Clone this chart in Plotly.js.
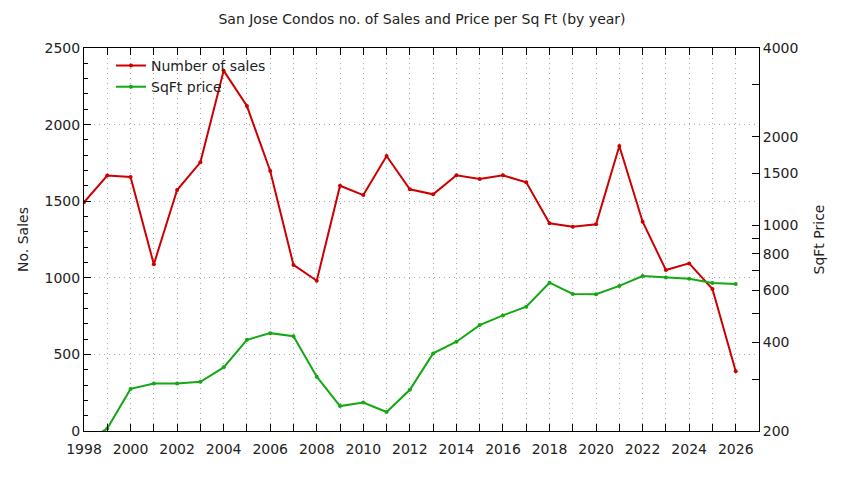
<!DOCTYPE html>
<html>
<head>
<meta charset="utf-8">
<script src="https://cdn.plot.ly/plotly-3.0.1.min.js"></script>
<style>
  html, body { margin: 0; padding: 0; background: #fff; }
  #chart { width: 844px; height: 480px; }
</style>
</head>
<body>
<div id="chart"></div>
<script>
// years on the x axis
const years = [1998, 1999, 2000, 2001, 2002, 2003, 2004, 2005, 2006, 2007,
               2008, 2009, 2010, 2011, 2012, 2013, 2014, 2015, 2016, 2017,
               2018, 2019, 2020, 2021, 2022, 2023, 2024, 2025, 2026];

// number of condo sales per year (left axis)
const salesCount = [1493, 1667, 1658, 1088, 1573, 1754, 2352, 2121, 1697, 1084,
                    981, 1601, 1540, 1795, 1578, 1545, 1669, 1645, 1669, 1623,
                    1356, 1334, 1349, 1860, 1366, 1051, 1094, 927, 390];

// price per square foot (right axis, log scale)
const sqftPrice = [182, 204, 278, 290, 290, 294, 329, 408, 430, 420,
                   306, 243, 250, 232, 276, 367, 402, 458, 494, 529,
                   638, 584, 583, 622, 672, 665, 658, 636, 632];

// right axis ticks
const y2Ticks  = [200, 300, 400, 500, 600, 700, 800, 900, 1000, 1500, 2000, 3000, 4000];
const y2Labels = ['200', '', '400', '', '600', '', '800', '', '1000', '1500', '2000', '', '4000'];

const FONT = 'DejaVu Sans, sans-serif';
const GRID = '#a8a8a8';
const DOTS = '1px,4px';

const traceSales = {
    x: years, y: salesCount,
    name: 'Number of sales',
    type: 'scatter', mode: 'lines+markers',
    line: { color: '#cc0000', width: 2 },
    marker: { color: '#cc0000', size: 4, symbol: 'circle' },
    yaxis: 'y'
};

const tracePrice = {
    x: years, y: sqftPrice,
    name: 'SqFt price',
    type: 'scatter', mode: 'lines+markers',
    line: { color: '#14a814', width: 2 },
    marker: { color: '#14a814', size: 4, symbol: 'circle' },
    yaxis: 'y2'
};

const layout = {
    width: 844, height: 480,
    paper_bgcolor: '#fff', plot_bgcolor: '#fff',
    margin: { l: 84, r: 85, t: 48, b: 49 },
    font: { family: FONT, size: 14, color: '#222' },
    title: {
        text: 'San Jose Condos no. of Sales and Price per Sq Ft (by year)',
        font: { family: FONT, size: 14, color: '#222' },
        x: 0.5, xanchor: 'center', y: 0.96, yanchor: 'middle'
    },
    showlegend: true,
    legend: {
        x: 0.04, y: 0.995, xanchor: 'left', yanchor: 'top',
        bgcolor: 'rgba(0,0,0,0)', borderwidth: 0,
        font: { family: FONT, size: 14, color: '#222' },
        tracegroupgap: 0
    },
    xaxis: {
        range: [1998, 2027], tick0: 1998, dtick: 2,
        ticks: 'inside', ticklen: 7, tickcolor: '#000', tickwidth: 1,
        ticklabelstandoff: 5,
        showline: true, linecolor: '#000', linewidth: 1, mirror: 'ticks',
        showgrid: true, gridcolor: GRID, griddash: DOTS, gridwidth: 1,
        minor: { dtick: 1, ticks: 'inside', ticklen: 7, tickcolor: '#000',
                 showgrid: true, gridcolor: GRID, griddash: DOTS, gridwidth: 1 },
        zeroline: false,
        tickfont: { family: FONT, size: 14, color: '#222' },
        fixedrange: true
    },
    yaxis: {
        range: [0, 2500], dtick: 500,
        ticks: 'inside', ticklen: 7, tickcolor: '#000',
        showline: true, linecolor: '#000', linewidth: 1,
        showgrid: true, gridcolor: GRID, griddash: DOTS, gridwidth: 1,
        minor: { dtick: 100, ticks: 'inside', ticklen: 4, tickcolor: '#000', showgrid: false },
        zeroline: false,
        tickfont: { family: FONT, size: 14, color: '#222' },
        title: { text: 'No. Sales', font: { family: FONT, size: 14, color: '#222' }, standoff: 12 },
        fixedrange: true
    },
    yaxis2: {
        type: 'log', overlaying: 'y', side: 'right',
        range: [Math.log10(200), Math.log10(4000)],
        tickmode: 'array', tickvals: y2Ticks, ticktext: y2Labels,
        ticks: 'inside', ticklen: 7, tickcolor: '#000',
        showline: true, linecolor: '#000', linewidth: 1,
        showgrid: false, zeroline: false,
        tickfont: { family: FONT, size: 14, color: '#222' },
        title: { text: 'SqFt Price', font: { family: FONT, size: 14, color: '#222' }, standoff: 16 },
        fixedrange: true
    }
};

Plotly.newPlot('chart', [traceSales, tracePrice], layout, { displayModeBar: false, staticPlot: true });
</script>
</body>
</html>
